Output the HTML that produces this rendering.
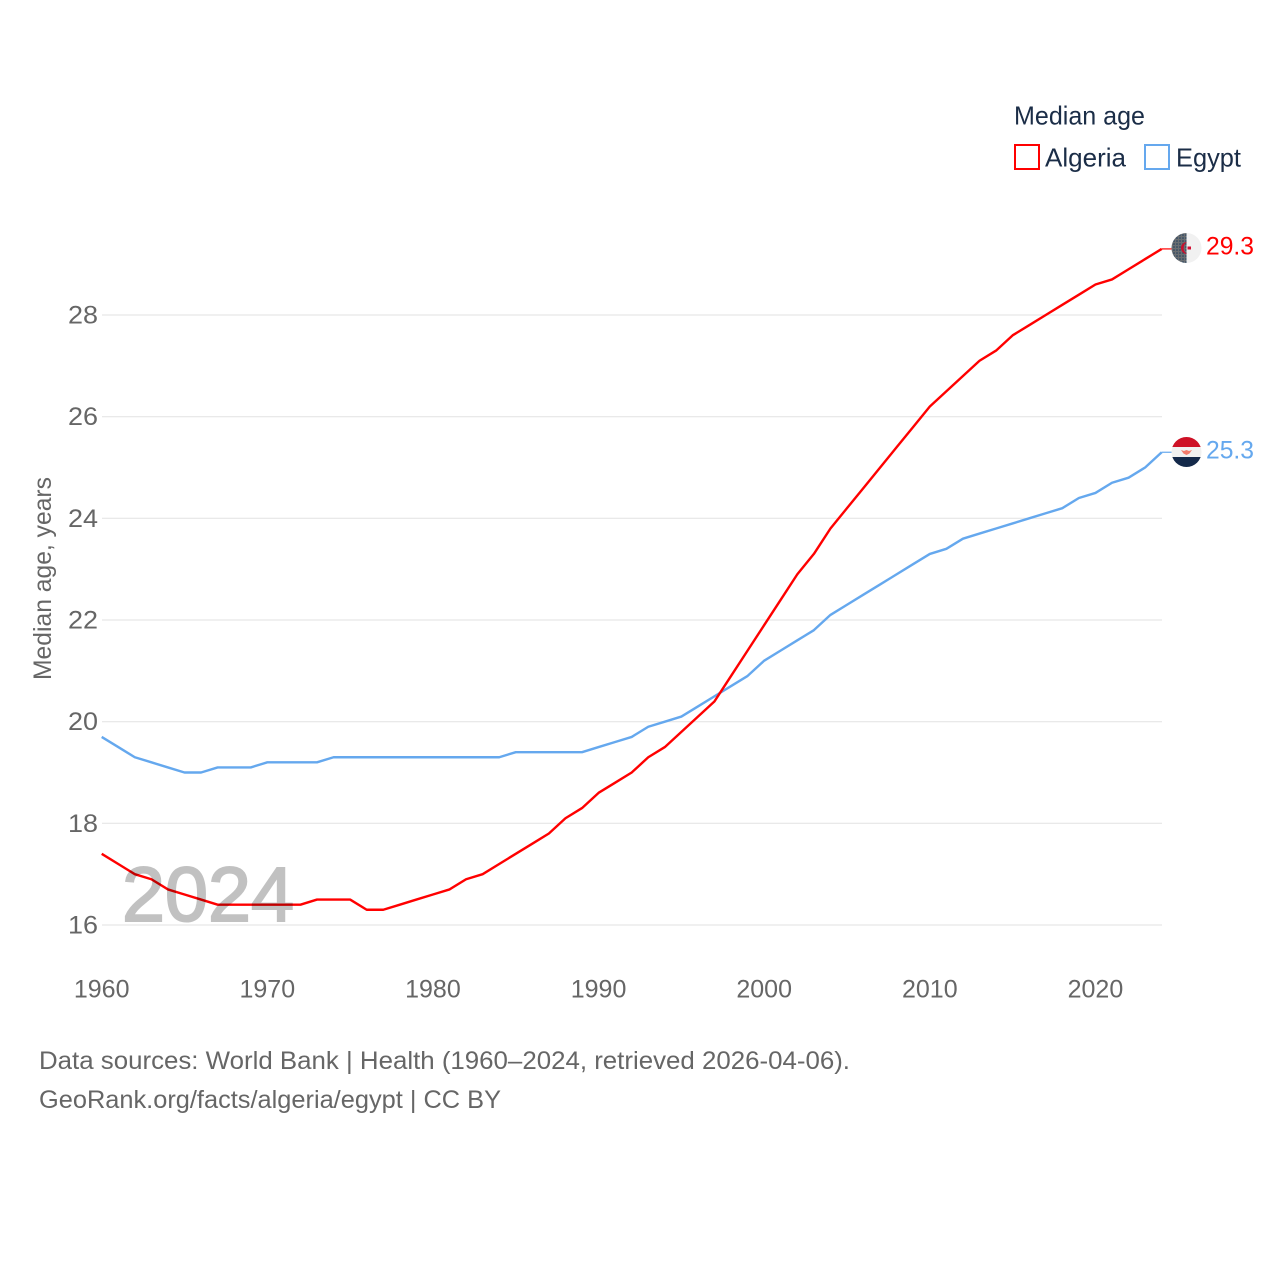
<!DOCTYPE html>
<html lang="en">
<head>
<meta charset="utf-8">
<title>Median age: Algeria and Egypt</title>
<style>
html,body{margin:0;padding:0;background:#fff;width:1280px;height:1280px;overflow:hidden}
svg{display:block;font-family:"Liberation Sans",sans-serif}
</style>
</head>
<body>
<svg id="chart" xmlns="http://www.w3.org/2000/svg" width="1280" height="1280" viewBox="0 0 1280 1280">
  <defs>
    <clipPath id="clip-algeria"><circle cx="1186.5" cy="248" r="15"/></clipPath>
    <clipPath id="clip-egypt"><circle cx="1186.5" cy="452" r="15"/></clipPath>
    <pattern id="dots" width="3" height="3" patternUnits="userSpaceOnUse">
      <rect width="3" height="3" fill="#696e72"/>
      <circle cx="1" cy="1" r="0.8" fill="#1f3d5c"/>
    </pattern>
  </defs>
  <g id="grid"></g>
  <g id="y-ticks"></g>
  <g id="x-ticks"></g>
  <text transform="translate(51,680) rotate(-90)" font-size="25" fill="#666" textLength="203" lengthAdjust="spacingAndGlyphs">Median age, years</text>
  <g id="series"></g>
  <g opacity="0.24">
    <text x="122" y="921" font-size="77" fill="#000" stroke="#000" stroke-width="2" textLength="172" lengthAdjust="spacingAndGlyphs">2024</text>
  </g>

  <g>
    <text x="1014" y="124.500" font-size="26" fill="#1b2d47" textLength="131" lengthAdjust="spacingAndGlyphs">Median age</text>
    <rect x="1015" y="145" width="24" height="24" fill="none" stroke="#ff0000" stroke-width="2"/>
    <text x="1045" y="166.500" font-size="26" fill="#1b2d47" textLength="81" lengthAdjust="spacingAndGlyphs">Algeria</text>
    <rect x="1145" y="145" width="24" height="24" fill="none" stroke="#65a8ee" stroke-width="2"/>
    <text x="1176" y="166.500" font-size="26" fill="#1b2d47" textLength="65" lengthAdjust="spacingAndGlyphs">Egypt</text>
  </g>

  <g clip-path="url(#clip-algeria)">
    <rect x="1171" y="232" width="16" height="32" fill="url(#dots)"/>
    <rect x="1186.5" y="232" width="16" height="32" fill="#f1f1f1"/>
    <path d="M1187 242 A6 6 0 1 0 1187 254 A7 7 0 0 1 1187 242 Z" fill="#c8102e"/>
    <rect x="1187.500" y="246.500" width="3.500" height="3" fill="#d21034"/>
  </g>
  <g clip-path="url(#clip-egypt)">
    <rect x="1171" y="436" width="32" height="11" fill="#ce1126"/>
    <rect x="1171" y="447" width="32" height="10" fill="#f1f1f1"/>
    <rect x="1171" y="457" width="32" height="11" fill="#14294a"/>
    <path d="M1181 450 L1184 451 L1186.5 450 L1189 451 L1192 450 L1189.5 453.500 L1186.500 455 L1183.500 453.500 Z" fill="#f47c6c"/>
  </g>
  <text x="1206" y="254.500" font-size="25" fill="#ff0000" textLength="48" lengthAdjust="spacingAndGlyphs">29.3</text>
  <text x="1206" y="458.500" font-size="25" fill="#65a8ee" textLength="48" lengthAdjust="spacingAndGlyphs">25.3</text>

  <text x="39" y="1069" font-size="25" fill="#666" textLength="811" lengthAdjust="spacingAndGlyphs">Data sources: World Bank | Health (1960–2024, retrieved 2026-04-06).</text>
  <text x="39" y="1108" font-size="25" fill="#666" textLength="462" lengthAdjust="spacingAndGlyphs">GeoRank.org/facts/algeria/egypt | CC BY</text>
</svg>
<script>
const startYear = 1960;
const algeriaValues = [17.4,17.2,17.0,16.9,16.7,16.6,16.5,16.4,16.4,16.4,16.4,16.4,16.4,16.5,16.5,16.5,16.3,16.3,16.4,16.5,16.6,16.7,16.9,17.0,17.2,17.4,17.6,17.8,18.1,18.3,18.6,18.8,19.0,19.3,19.5,19.8,20.1,20.4,20.9,21.4,21.9,22.4,22.9,23.3,23.8,24.2,24.6,25.0,25.4,25.8,26.2,26.5,26.8,27.1,27.3,27.6,27.8,28.0,28.2,28.4,28.6,28.7,28.9,29.1,29.3];
const egyptValues = [19.7,19.5,19.3,19.2,19.1,19.0,19.0,19.1,19.1,19.1,19.2,19.2,19.2,19.2,19.3,19.3,19.3,19.3,19.3,19.3,19.3,19.3,19.3,19.3,19.3,19.4,19.4,19.4,19.4,19.4,19.5,19.6,19.7,19.9,20.0,20.1,20.3,20.5,20.7,20.9,21.2,21.4,21.6,21.8,22.1,22.3,22.5,22.7,22.9,23.1,23.3,23.4,23.6,23.7,23.8,23.9,24.0,24.1,24.2,24.4,24.5,24.7,24.8,25.0,25.3];
const yTickLabels = [16,18,20,22,24,26,28];
const xTickLabels = [1960,1970,1980,1990,2000,2010,2020];

const NS = 'http://www.w3.org/2000/svg';
function xScale(year){ return 101.7 + (year - 1960) * (1161.7 - 101.7) / 64; }
function yScale(v){ return 925 - (v - 16) * (925 - 315) / 12; }

const gridGroup = document.getElementById('grid');
const yTickGroup = document.getElementById('y-ticks');
const xTickGroup = document.getElementById('x-ticks');
const seriesGroup = document.getElementById('series');

yTickLabels.forEach(function(t){
  const line = document.createElementNS(NS, 'line');
  
  
  line.setAttribute('x1', 102);
  line.setAttribute('x2', 1162);
  line.setAttribute('y1', yScale(t));
  line.setAttribute('y2', yScale(t));
  line.setAttribute('stroke', '#e6e6e6');
  line.setAttribute('stroke-width', '1.2');
  gridGroup.appendChild(line);

  const label = document.createElementNS(NS, 'text');
  
  
  label.setAttribute('x', 68);
  label.setAttribute('y', yScale(t) + 8.5);
  label.setAttribute('font-size', '25');
  label.setAttribute('fill', '#666');
  label.setAttribute('textLength', '30');
  label.setAttribute('lengthAdjust', 'spacingAndGlyphs');
  label.textContent = t;
  yTickGroup.appendChild(label);
});

xTickLabels.forEach(function(t){
  const label = document.createElementNS(NS, 'text');
  
  
  label.setAttribute('x', xScale(t));
  label.setAttribute('y', 997.5);
  label.setAttribute('text-anchor', 'middle');
  label.setAttribute('font-size', '25');
  label.setAttribute('fill', '#666');
  label.textContent = t;
  xTickGroup.appendChild(label);
});

function drawSeries(values, color){
  const pts = values.map(function(v, i){
    return xScale(startYear + i).toFixed(2) + ',' + yScale(v).toFixed(2);
  });
  const lastY = yScale(values[values.length - 1]).toFixed(2);
  const line = document.createElementNS(NS, 'polyline');
  
  
  line.setAttribute('points', pts.join(' '));
  line.setAttribute('fill', 'none');
  line.setAttribute('stroke', color);
  line.setAttribute('stroke-width', '2.4');
  line.setAttribute('stroke-linejoin', 'round');
  seriesGroup.appendChild(line);

  const leader = document.createElementNS(NS, 'line');
  
  
  leader.setAttribute('x1', xScale(startYear + values.length - 1));
  leader.setAttribute('x2', xScale(startYear + values.length - 1) + 10);
  leader.setAttribute('y1', lastY);
  leader.setAttribute('y2', lastY);
  leader.setAttribute('stroke', color);
  leader.setAttribute('stroke-width', '1.2');
  seriesGroup.appendChild(leader);
}
drawSeries(egyptValues, '#65a8ee');
drawSeries(algeriaValues, '#ff0000');
</script>
</body>
</html>
